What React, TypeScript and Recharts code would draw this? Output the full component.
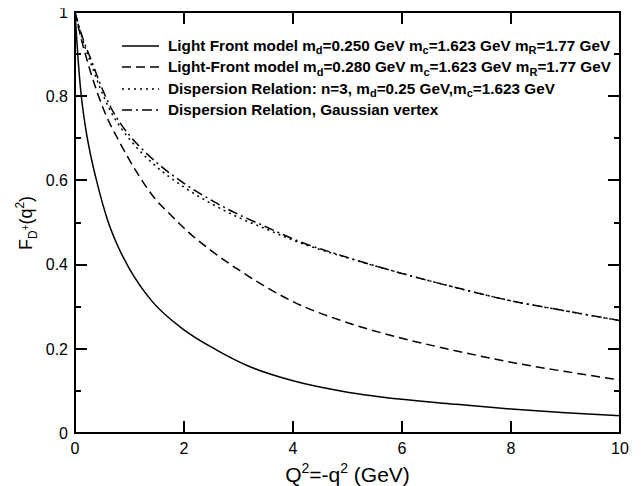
import React from 'react';
import { LineChart, Line, XAxis, YAxis, CartesianGrid } from 'recharts';

// Light Front model, m_d = 0.250 GeV (solid)
const solidQ = [0, 0.05, 0.1, 0.2, 0.3, 0.4, 0.6, 0.8, 1.0, 1.4, 2.0, 2.6, 3.2, 4, 5, 6, 7, 8, 9, 10];
const solidF = [1, 0.9, 0.82, 0.72, 0.652, 0.597, 0.505, 0.44, 0.39, 0.315, 0.245, 0.197, 0.158, 0.124, 0.097, 0.08, 0.068, 0.057, 0.048, 0.041];

// Light-Front model, m_d = 0.280 GeV (dashed)
const dashedQ = [0, 0.06, 0.28, 0.52, 0.83, 1.13, 1.44, 1.74, 2.09, 2.48, 3.2, 4, 5, 6, 7, 8, 9, 10];
const dashedF = [1, 0.965, 0.86, 0.77, 0.688, 0.62, 0.561, 0.52, 0.476, 0.435, 0.371, 0.312, 0.262, 0.225, 0.195, 0.168, 0.146, 0.126];

// Dispersion relation n=3 (dotted)
const dottedQ = [0, 0.05, 0.15, 0.3, 0.46, 0.65, 0.83, 1, 1.25, 1.5, 2, 2.5, 3, 3.5, 4, 5, 6, 7, 8, 9, 10];
const dottedF = [1, 0.975, 0.93, 0.875, 0.82, 0.765, 0.727, 0.698, 0.662, 0.632, 0.584, 0.545, 0.512, 0.485, 0.458, 0.416, 0.379, 0.345, 0.314, 0.29, 0.267];

// Dispersion relation, Gaussian vertex (dash-dot)
const dashDotQ = [0, 0.05, 0.15, 0.3, 0.46, 0.65, 0.83, 1, 1.25, 1.5, 2, 2.5, 3, 3.5, 4, 5, 6, 7, 8, 9, 10];
const dashDotF = [1, 0.977, 0.935, 0.885, 0.83, 0.775, 0.736, 0.707, 0.672, 0.642, 0.593, 0.553, 0.519, 0.49, 0.461, 0.417, 0.379, 0.345, 0.314, 0.29, 0.267];

const xTicks = [0, 2, 4, 6, 8, 10];
const xTickLabels = ['0', '2', '4', '6', '8', '10'];
const yTicks = [0, 0.1, 0.2, 0.3, 0.4, 0.5, 0.6, 0.7, 0.8, 0.9, 1];
const yTickLabels = ['0', '', '0.2', '', '0.4', '', '0.6', '', '0.8', '', '1'];
const X_DOMAIN = [0, 10];
const Y_DOMAIN = [0, 1];

const legendNames = [
  'Light Front model m_{d}=0.250 GeV m_{c}=1.623 GeV m_{R}=1.77 GeV',
  'Light-Front model m_{d}=0.280 GeV m_{c}=1.623 GeV m_{R}=1.77 GeV',
  'Dispersion Relation: n=3, m_{d}=0.25 GeV,m_{c}=1.623 GeV',
  'Dispersion Relation, Gaussian vertex',
];

const FONT = '"Liberation Sans", Arial, Helvetica, sans-serif';

// layout
const W = 644;
const H = 486;
const MARGIN = { top: 12, right: 24, bottom: 23, left: 15 };
const Y_AXIS_W = 60;
const X_AXIS_H = 30;
const PLOT_L = MARGIN.left + Y_AXIS_W;
const PLOT_T = MARGIN.top;
const PLOT_W = W - MARGIN.left - MARGIN.right - Y_AXIS_W;
const PLOT_H = H - MARGIN.top - MARGIN.bottom - X_AXIS_H;
const AX_OFF = 8; // recharts default tickSize (6) + tickMargin (2)

const toPoints = (qs: number[], fs: number[]) => qs.map((q, i) => ({ q, f: fs[i] }));

const series = [
  { key: 's1', data: toPoints(solidQ, solidF), dash: undefined as string | undefined, name: legendNames[0] },
  { key: 's2', data: toPoints(dashedQ, dashedF), dash: '9 5', name: legendNames[1] },
  { key: 's3', data: toPoints(dottedQ, dottedF), dash: '2 4', name: legendNames[2] },
  { key: 's4', data: toPoints(dashDotQ, dashDotF), dash: '10 4 2 4', name: legendNames[3] },
];

function richText(s: string) {
  const parts: React.ReactNode[] = [];
  const re = /_\{([^}]*)\}/g;
  let last = 0;
  let m: RegExpExecArray | null;
  let k = 0;
  while ((m = re.exec(s))) {
    parts.push(<span key={k++}>{s.slice(last, m.index)}</span>);
    parts.push(
      <span key={k++} style={{ fontSize: '0.72em', position: 'relative', top: '0.3em' }}>
        {m[1]}
      </span>
    );
    last = m.index + m[0].length;
  }
  parts.push(<span key={k++}>{s.slice(last)}</span>);
  return parts;
}

const MAJOR = 12;
const MINOR = 6;
const TW = 2;

const isMajorY = (v: number) => Math.round(v * 10) % 2 === 0;
const nearestIdx = (arr: number[], v: number) => arr.findIndex((t) => Math.abs(t - v) < 1e-6);
const yLabelFor = (v: number) => yTickLabels[nearestIdx(yTicks, v)] || '';
const xLabelFor = (v: number) => xTickLabels[nearestIdx(xTicks, v)] || '';

const YTick = (props: any) => {
  const ax = Number(props.x) + AX_OFF;
  const y = Number(props.y);
  const label = yLabelFor(Number(props.payload.value));
  if (!label) return <g />;
  return (
    <text x={ax - 7} y={y} dy="0.36em" textAnchor="end" fontSize={16} fontFamily={FONT} fill="#000">
      {label}
    </text>
  );
};

const XTick = (props: any) => {
  const x = Number(props.x);
  const ay = Number(props.y) - AX_OFF;
  const label = xLabelFor(Number(props.payload.value));
  return (
    <text x={x} y={ay + 21} textAnchor="middle" fontSize={16} fontFamily={FONT} fill="#000">
      {label}
    </text>
  );
};

// frame with inward ticks on all four sides
const xPos = (v: number) => PLOT_L + ((v - X_DOMAIN[0]) / (X_DOMAIN[1] - X_DOMAIN[0])) * PLOT_W;
const yPos = (v: number) => PLOT_T + (1 - (v - Y_DOMAIN[0]) / (Y_DOMAIN[1] - Y_DOMAIN[0])) * PLOT_H;

const Frame = () => {
  const base: React.CSSProperties = { position: 'absolute', background: '#000', pointerEvents: 'none' };
  return (
    <>
      <div
        style={{
          position: 'absolute',
          left: PLOT_L - 1,
          top: PLOT_T - 1,
          width: PLOT_W + 2,
          height: PLOT_H + 2,
          border: '2px solid #000',
          boxSizing: 'border-box',
          pointerEvents: 'none',
        }}
      />
      {yTicks.map((v) => {
        const len = isMajorY(v) ? MAJOR : MINOR;
        const top = yPos(v) - TW / 2;
        return (
          <React.Fragment key={'y' + v}>
            <div style={{ ...base, left: PLOT_L, top, width: len, height: TW }} />
            <div style={{ ...base, left: PLOT_L + PLOT_W - len, top, width: len, height: TW }} />
          </React.Fragment>
        );
      })}
      {xTicks.map((v) => {
        const left = xPos(v) - TW / 2;
        return (
          <React.Fragment key={'x' + v}>
            <div style={{ ...base, left, top: PLOT_T + PLOT_H - MAJOR, width: TW, height: MAJOR }} />
            <div style={{ ...base, left, top: PLOT_T, width: TW, height: MAJOR }} />
          </React.Fragment>
        );
      })}
    </>
  );
};

const Titles = () => (
  <>
    <div
      style={{
        position: 'absolute',
        left: 26,
        top: PLOT_T + PLOT_H / 2,
        transform: 'translate(-50%, -50%) rotate(-90deg)',
        fontFamily: FONT,
        fontSize: 18,
        lineHeight: 1,
        whiteSpace: 'nowrap',
        color: '#000',
      }}
    >
      F
      <span style={{ fontSize: 12, position: 'relative', top: 5 }}>
        D<span style={{ fontSize: 10, position: 'relative', top: -8 }}>+</span>
      </span>
      (q<span style={{ fontSize: 12, position: 'relative', top: -8 }}>2</span>)
    </div>
    <div
      style={{
        position: 'absolute',
        left: PLOT_L + PLOT_W / 2,
        top: 464,
        transform: 'translateX(-50%)',
        fontFamily: FONT,
        fontSize: 21,
        lineHeight: 1,
        whiteSpace: 'nowrap',
        color: '#000',
      }}
    >
      Q<span style={{ fontSize: 14, position: 'relative', top: -9 }}>2</span>=-q
      <span style={{ fontSize: 14, position: 'relative', top: -9 }}>2</span> (GeV)
    </div>
  </>
);

const LegendBox = () => (
  <div
    style={{
      position: 'absolute',
      left: 122,
      top: 35,
      fontFamily: FONT,
      fontWeight: 'bold',
      fontSize: 15.3,
      color: '#000',
      whiteSpace: 'nowrap',
      pointerEvents: 'none',
    }}
  >
    {series.map((s) => (
      <div key={s.key} style={{ display: 'flex', alignItems: 'center', height: 21.5 }}>
        <svg width={37} height={10} style={{ marginRight: 9, flex: 'none' }}>
          <line x1={0} x2={37} y1={5} y2={5} stroke="#000" strokeWidth={1.6} strokeDasharray={s.dash} />
        </svg>
        <span>{richText(s.name)}</span>
      </div>
    ))}
  </div>
);

export default function App() {
  return (
    <div style={{ width: W, height: H, position: 'relative', marginTop: -8, marginLeft: -8 }}>
      <LineChart width={W} height={H} margin={MARGIN}>
        <CartesianGrid stroke="#fff" strokeOpacity={0} />
        <XAxis
          dataKey="q"
          type="number"
          domain={X_DOMAIN}
          tickCount={xTicks.length}
          height={X_AXIS_H}
          axisLine={false}
          tickLine={false}
          tick={<XTick />}
        />
        <YAxis
          type="number"
          domain={Y_DOMAIN}
          tickCount={yTicks.length}
          width={Y_AXIS_W}
          axisLine={false}
          tickLine={false}
          tick={<YTick />}
        />
        {series.map((s) => (
          <Line
            key={s.key}
            data={s.data}
            dataKey="f"
            name={s.name}
            type="monotone"
            stroke="#000"
            strokeWidth={1.5}
            strokeDasharray={s.dash}
            dot={false}
            isAnimationActive={false}
          />
        ))}
      </LineChart>
      <Frame />
      <Titles />
      <LegendBox />
    </div>
  );
}
